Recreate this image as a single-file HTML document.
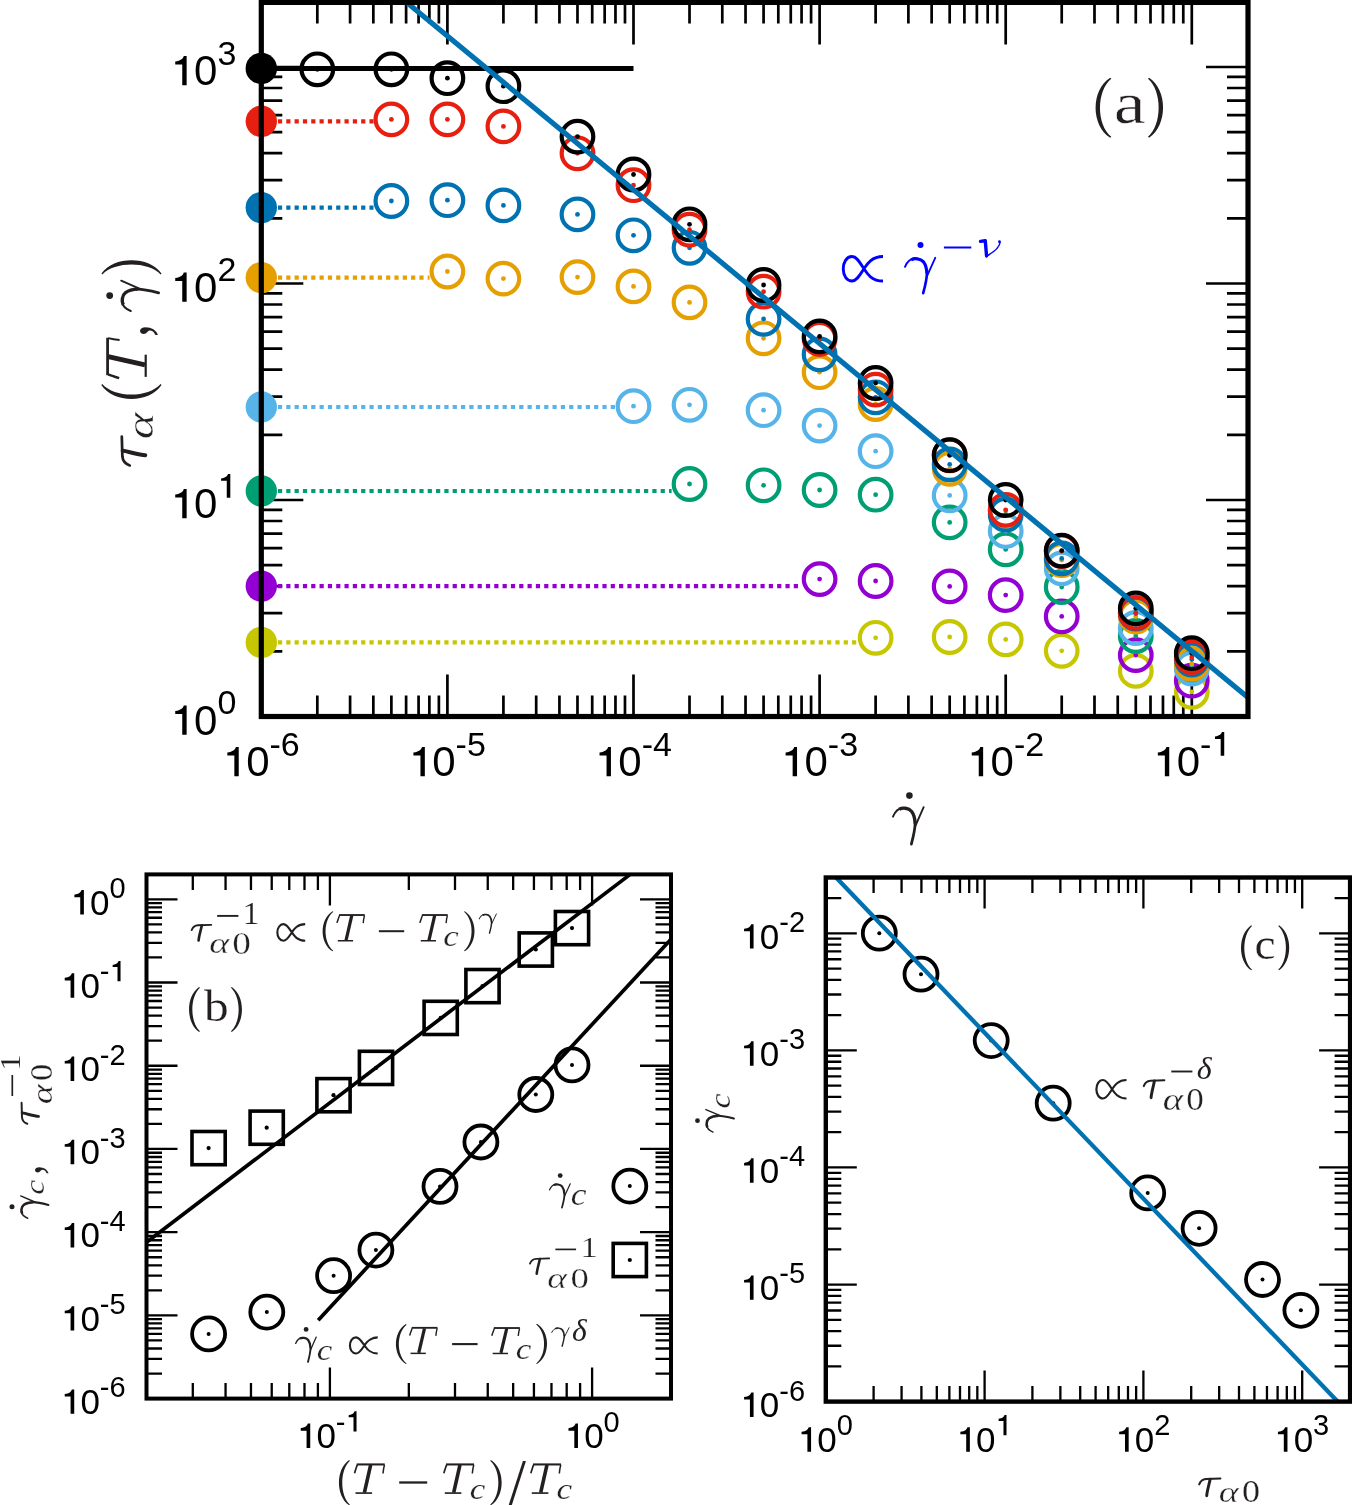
<!DOCTYPE html><html><head><meta charset="utf-8"><style>html,body{margin:0;padding:0;background:#fff;}svg{display:block;will-change:transform;}</style></head><body>
<svg width="1352" height="1505" viewBox="0 0 1352 1505">
<rect width="1352" height="1505" fill="#fff"/>
<g id="pa">
<path d="M261.30,2.40v42M261.30,716.50v-42M317.32,2.40v21M317.32,716.50v-21M350.09,2.40v21M350.09,716.50v-21M373.34,2.40v21M373.34,716.50v-21M391.38,2.40v21M391.38,716.50v-21M406.11,2.40v21M406.11,716.50v-21M418.57,2.40v21M418.57,716.50v-21M429.37,2.40v21M429.37,716.50v-21M438.88,2.40v21M438.88,716.50v-21M447.40,2.40v42M447.40,716.50v-42M503.42,2.40v21M503.42,716.50v-21M536.19,2.40v21M536.19,716.50v-21M559.44,2.40v21M559.44,716.50v-21M577.48,2.40v21M577.48,716.50v-21M592.21,2.40v21M592.21,716.50v-21M604.67,2.40v21M604.67,716.50v-21M615.47,2.40v21M615.47,716.50v-21M624.98,2.40v21M624.98,716.50v-21M633.50,2.40v42M633.50,716.50v-42M689.52,2.40v21M689.52,716.50v-21M722.29,2.40v21M722.29,716.50v-21M745.54,2.40v21M745.54,716.50v-21M763.58,2.40v21M763.58,716.50v-21M778.31,2.40v21M778.31,716.50v-21M790.77,2.40v21M790.77,716.50v-21M801.57,2.40v21M801.57,716.50v-21M811.08,2.40v21M811.08,716.50v-21M819.60,2.40v42M819.60,716.50v-42M875.62,2.40v21M875.62,716.50v-21M908.39,2.40v21M908.39,716.50v-21M931.64,2.40v21M931.64,716.50v-21M949.68,2.40v21M949.68,716.50v-21M964.41,2.40v21M964.41,716.50v-21M976.87,2.40v21M976.87,716.50v-21M987.67,2.40v21M987.67,716.50v-21M997.18,2.40v21M997.18,716.50v-21M1005.70,2.40v42M1005.70,716.50v-42M1061.72,2.40v21M1061.72,716.50v-21M1094.49,2.40v21M1094.49,716.50v-21M1117.74,2.40v21M1117.74,716.50v-21M1135.78,2.40v21M1135.78,716.50v-21M1150.51,2.40v21M1150.51,716.50v-21M1162.97,2.40v21M1162.97,716.50v-21M1173.77,2.40v21M1173.77,716.50v-21M1183.28,2.40v21M1183.28,716.50v-21M1191.80,2.40v42M1191.80,716.50v-42M1247.82,2.40v21M1247.82,716.50v-21" stroke="#000" stroke-width="2.7" fill="none"/>
<path d="M261.30,716.50h42M1248.00,716.50h-42M261.30,651.33h21M1248.00,651.33h-21M261.30,613.20h21M1248.00,613.20h-21M261.30,586.15h21M1248.00,586.15h-21M261.30,565.17h21M1248.00,565.17h-21M261.30,548.03h21M1248.00,548.03h-21M261.30,533.54h21M1248.00,533.54h-21M261.30,520.98h21M1248.00,520.98h-21M261.30,509.91h21M1248.00,509.91h-21M261.30,500.00h42M1248.00,500.00h-42M261.30,434.83h21M1248.00,434.83h-21M261.30,396.70h21M1248.00,396.70h-21M261.30,369.65h21M1248.00,369.65h-21M261.30,348.67h21M1248.00,348.67h-21M261.30,331.53h21M1248.00,331.53h-21M261.30,317.04h21M1248.00,317.04h-21M261.30,304.48h21M1248.00,304.48h-21M261.30,293.41h21M1248.00,293.41h-21M261.30,283.50h42M1248.00,283.50h-42M261.30,218.33h21M1248.00,218.33h-21M261.30,180.20h21M1248.00,180.20h-21M261.30,153.15h21M1248.00,153.15h-21M261.30,132.17h21M1248.00,132.17h-21M261.30,115.03h21M1248.00,115.03h-21M261.30,100.54h21M1248.00,100.54h-21M261.30,87.98h21M1248.00,87.98h-21M261.30,76.91h21M1248.00,76.91h-21M261.30,67.00h42M1248.00,67.00h-42M261.30,1.83h21M1248.00,1.83h-21" stroke="#000" stroke-width="2.7" fill="none"/>
<line x1="261.30" y1="642.4" x2="857.72" y2="642.4" stroke="#c6c700" stroke-width="4.2" stroke-dasharray="4.2 4.12"/>
<line x1="261.30" y1="586.1" x2="801.70" y2="586.1" stroke="#9400d3" stroke-width="4.2" stroke-dasharray="4.2 4.12"/>
<line x1="261.30" y1="491.0" x2="671.62" y2="491.0" stroke="#009e73" stroke-width="4.2" stroke-dasharray="4.2 4.12"/>
<line x1="261.30" y1="407.0" x2="615.60" y2="407.0" stroke="#56b4e9" stroke-width="4.2" stroke-dasharray="4.2 4.12"/>
<line x1="261.30" y1="277.6" x2="429.50" y2="277.6" stroke="#e69f00" stroke-width="4.2" stroke-dasharray="4.2 4.12"/>
<line x1="261.30" y1="207.6" x2="373.48" y2="207.6" stroke="#0072b2" stroke-width="4.2" stroke-dasharray="4.2 4.12"/>
<line x1="261.30" y1="121.3" x2="373.48" y2="121.3" stroke="#e61f10" stroke-width="4.2" stroke-dasharray="4.2 4.12"/>
<line x1="261.3" y1="68.5" x2="633.50" y2="68.5" stroke="#000" stroke-width="4.8"/>
<circle cx="875.62" cy="637.80" r="15.8" fill="none" stroke="#c6c700" stroke-width="4.2"/><circle cx="875.62" cy="637.80" r="2.4" fill="#c6c700"/>
<circle cx="949.68" cy="637.00" r="15.8" fill="none" stroke="#c6c700" stroke-width="4.2"/><circle cx="949.68" cy="637.00" r="2.4" fill="#c6c700"/>
<circle cx="1005.70" cy="639.40" r="15.8" fill="none" stroke="#c6c700" stroke-width="4.2"/><circle cx="1005.70" cy="639.40" r="2.4" fill="#c6c700"/>
<circle cx="1061.72" cy="650.80" r="15.8" fill="none" stroke="#c6c700" stroke-width="4.2"/><circle cx="1061.72" cy="650.80" r="2.4" fill="#c6c700"/>
<circle cx="1135.78" cy="670.90" r="15.8" fill="none" stroke="#c6c700" stroke-width="4.2"/><circle cx="1135.78" cy="670.90" r="2.4" fill="#c6c700"/>
<circle cx="1191.80" cy="691.80" r="15.8" fill="none" stroke="#c6c700" stroke-width="4.2"/><circle cx="1191.80" cy="691.80" r="2.4" fill="#c6c700"/>
<circle cx="819.60" cy="579.10" r="15.8" fill="none" stroke="#9400d3" stroke-width="4.2"/><circle cx="819.60" cy="579.10" r="2.4" fill="#9400d3"/>
<circle cx="875.62" cy="581.00" r="15.8" fill="none" stroke="#9400d3" stroke-width="4.2"/><circle cx="875.62" cy="581.00" r="2.4" fill="#9400d3"/>
<circle cx="949.68" cy="586.40" r="15.8" fill="none" stroke="#9400d3" stroke-width="4.2"/><circle cx="949.68" cy="586.40" r="2.4" fill="#9400d3"/>
<circle cx="1005.70" cy="595.10" r="15.8" fill="none" stroke="#9400d3" stroke-width="4.2"/><circle cx="1005.70" cy="595.10" r="2.4" fill="#9400d3"/>
<circle cx="1061.72" cy="616.40" r="15.8" fill="none" stroke="#9400d3" stroke-width="4.2"/><circle cx="1061.72" cy="616.40" r="2.4" fill="#9400d3"/>
<circle cx="1135.78" cy="655.10" r="15.8" fill="none" stroke="#9400d3" stroke-width="4.2"/><circle cx="1135.78" cy="655.10" r="2.4" fill="#9400d3"/>
<circle cx="1191.80" cy="680.70" r="15.8" fill="none" stroke="#9400d3" stroke-width="4.2"/><circle cx="1191.80" cy="680.70" r="2.4" fill="#9400d3"/>
<circle cx="689.52" cy="484.00" r="15.8" fill="none" stroke="#009e73" stroke-width="4.2"/><circle cx="689.52" cy="484.00" r="2.4" fill="#009e73"/>
<circle cx="763.58" cy="485.30" r="15.8" fill="none" stroke="#009e73" stroke-width="4.2"/><circle cx="763.58" cy="485.30" r="2.4" fill="#009e73"/>
<circle cx="819.60" cy="490.00" r="15.8" fill="none" stroke="#009e73" stroke-width="4.2"/><circle cx="819.60" cy="490.00" r="2.4" fill="#009e73"/>
<circle cx="875.62" cy="494.70" r="15.8" fill="none" stroke="#009e73" stroke-width="4.2"/><circle cx="875.62" cy="494.70" r="2.4" fill="#009e73"/>
<circle cx="949.68" cy="522.40" r="15.8" fill="none" stroke="#009e73" stroke-width="4.2"/><circle cx="949.68" cy="522.40" r="2.4" fill="#009e73"/>
<circle cx="1005.70" cy="549.40" r="15.8" fill="none" stroke="#009e73" stroke-width="4.2"/><circle cx="1005.70" cy="549.40" r="2.4" fill="#009e73"/>
<circle cx="1061.72" cy="587.00" r="15.8" fill="none" stroke="#009e73" stroke-width="4.2"/><circle cx="1061.72" cy="587.00" r="2.4" fill="#009e73"/>
<circle cx="1135.78" cy="636.00" r="15.8" fill="none" stroke="#009e73" stroke-width="4.2"/><circle cx="1135.78" cy="636.00" r="2.4" fill="#009e73"/>
<circle cx="1191.80" cy="666.00" r="15.8" fill="none" stroke="#009e73" stroke-width="4.2"/><circle cx="1191.80" cy="666.00" r="2.4" fill="#009e73"/>
<circle cx="633.50" cy="406.20" r="15.8" fill="none" stroke="#56b4e9" stroke-width="4.2"/><circle cx="633.50" cy="406.20" r="2.4" fill="#56b4e9"/>
<circle cx="689.52" cy="404.80" r="15.8" fill="none" stroke="#56b4e9" stroke-width="4.2"/><circle cx="689.52" cy="404.80" r="2.4" fill="#56b4e9"/>
<circle cx="763.58" cy="410.20" r="15.8" fill="none" stroke="#56b4e9" stroke-width="4.2"/><circle cx="763.58" cy="410.20" r="2.4" fill="#56b4e9"/>
<circle cx="819.60" cy="425.60" r="15.8" fill="none" stroke="#56b4e9" stroke-width="4.2"/><circle cx="819.60" cy="425.60" r="2.4" fill="#56b4e9"/>
<circle cx="875.62" cy="451.20" r="15.8" fill="none" stroke="#56b4e9" stroke-width="4.2"/><circle cx="875.62" cy="451.20" r="2.4" fill="#56b4e9"/>
<circle cx="949.68" cy="495.40" r="15.8" fill="none" stroke="#56b4e9" stroke-width="4.2"/><circle cx="949.68" cy="495.40" r="2.4" fill="#56b4e9"/>
<circle cx="1005.70" cy="531.00" r="15.8" fill="none" stroke="#56b4e9" stroke-width="4.2"/><circle cx="1005.70" cy="531.00" r="2.4" fill="#56b4e9"/>
<circle cx="1061.72" cy="568.40" r="15.8" fill="none" stroke="#56b4e9" stroke-width="4.2"/><circle cx="1061.72" cy="568.40" r="2.4" fill="#56b4e9"/>
<circle cx="1135.78" cy="628.00" r="15.8" fill="none" stroke="#56b4e9" stroke-width="4.2"/><circle cx="1135.78" cy="628.00" r="2.4" fill="#56b4e9"/>
<circle cx="1191.80" cy="668.60" r="15.8" fill="none" stroke="#56b4e9" stroke-width="4.2"/><circle cx="1191.80" cy="668.60" r="2.4" fill="#56b4e9"/>
<circle cx="447.40" cy="271.50" r="15.8" fill="none" stroke="#e69f00" stroke-width="4.2"/><circle cx="447.40" cy="271.50" r="2.4" fill="#e69f00"/>
<circle cx="503.42" cy="278.60" r="15.8" fill="none" stroke="#e69f00" stroke-width="4.2"/><circle cx="503.42" cy="278.60" r="2.4" fill="#e69f00"/>
<circle cx="577.48" cy="277.10" r="15.8" fill="none" stroke="#e69f00" stroke-width="4.2"/><circle cx="577.48" cy="277.10" r="2.4" fill="#e69f00"/>
<circle cx="633.50" cy="286.40" r="15.8" fill="none" stroke="#e69f00" stroke-width="4.2"/><circle cx="633.50" cy="286.40" r="2.4" fill="#e69f00"/>
<circle cx="689.52" cy="302.40" r="15.8" fill="none" stroke="#e69f00" stroke-width="4.2"/><circle cx="689.52" cy="302.40" r="2.4" fill="#e69f00"/>
<circle cx="763.58" cy="338.30" r="15.8" fill="none" stroke="#e69f00" stroke-width="4.2"/><circle cx="763.58" cy="338.30" r="2.4" fill="#e69f00"/>
<circle cx="819.60" cy="372.20" r="15.8" fill="none" stroke="#e69f00" stroke-width="4.2"/><circle cx="819.60" cy="372.20" r="2.4" fill="#e69f00"/>
<circle cx="875.62" cy="404.00" r="15.8" fill="none" stroke="#e69f00" stroke-width="4.2"/><circle cx="875.62" cy="404.00" r="2.4" fill="#e69f00"/>
<circle cx="949.68" cy="468.80" r="15.8" fill="none" stroke="#e69f00" stroke-width="4.2"/><circle cx="949.68" cy="468.80" r="2.4" fill="#e69f00"/>
<circle cx="1005.70" cy="511.00" r="15.8" fill="none" stroke="#e69f00" stroke-width="4.2"/><circle cx="1005.70" cy="511.00" r="2.4" fill="#e69f00"/>
<circle cx="1061.72" cy="560.00" r="15.8" fill="none" stroke="#e69f00" stroke-width="4.2"/><circle cx="1061.72" cy="560.00" r="2.4" fill="#e69f00"/>
<circle cx="1135.78" cy="616.50" r="15.8" fill="none" stroke="#e69f00" stroke-width="4.2"/><circle cx="1135.78" cy="616.50" r="2.4" fill="#e69f00"/>
<circle cx="1191.80" cy="663.90" r="15.8" fill="none" stroke="#e69f00" stroke-width="4.2"/><circle cx="1191.80" cy="663.90" r="2.4" fill="#e69f00"/>
<circle cx="391.38" cy="201.00" r="15.8" fill="none" stroke="#0072b2" stroke-width="4.2"/><circle cx="391.38" cy="201.00" r="2.4" fill="#0072b2"/>
<circle cx="447.40" cy="200.20" r="15.8" fill="none" stroke="#0072b2" stroke-width="4.2"/><circle cx="447.40" cy="200.20" r="2.4" fill="#0072b2"/>
<circle cx="503.42" cy="205.40" r="15.8" fill="none" stroke="#0072b2" stroke-width="4.2"/><circle cx="503.42" cy="205.40" r="2.4" fill="#0072b2"/>
<circle cx="577.48" cy="214.40" r="15.8" fill="none" stroke="#0072b2" stroke-width="4.2"/><circle cx="577.48" cy="214.40" r="2.4" fill="#0072b2"/>
<circle cx="633.50" cy="235.30" r="15.8" fill="none" stroke="#0072b2" stroke-width="4.2"/><circle cx="633.50" cy="235.30" r="2.4" fill="#0072b2"/>
<circle cx="689.52" cy="247.80" r="15.8" fill="none" stroke="#0072b2" stroke-width="4.2"/><circle cx="689.52" cy="247.80" r="2.4" fill="#0072b2"/>
<circle cx="763.58" cy="318.90" r="15.8" fill="none" stroke="#0072b2" stroke-width="4.2"/><circle cx="763.58" cy="318.90" r="2.4" fill="#0072b2"/>
<circle cx="819.60" cy="354.40" r="15.8" fill="none" stroke="#0072b2" stroke-width="4.2"/><circle cx="819.60" cy="354.40" r="2.4" fill="#0072b2"/>
<circle cx="875.62" cy="397.30" r="15.8" fill="none" stroke="#0072b2" stroke-width="4.2"/><circle cx="875.62" cy="397.30" r="2.4" fill="#0072b2"/>
<circle cx="949.68" cy="464.40" r="15.8" fill="none" stroke="#0072b2" stroke-width="4.2"/><circle cx="949.68" cy="464.40" r="2.4" fill="#0072b2"/>
<circle cx="1005.70" cy="514.70" r="15.8" fill="none" stroke="#0072b2" stroke-width="4.2"/><circle cx="1005.70" cy="514.70" r="2.4" fill="#0072b2"/>
<circle cx="1061.72" cy="558.40" r="15.8" fill="none" stroke="#0072b2" stroke-width="4.2"/><circle cx="1061.72" cy="558.40" r="2.4" fill="#0072b2"/>
<circle cx="1135.78" cy="613.50" r="15.8" fill="none" stroke="#0072b2" stroke-width="4.2"/><circle cx="1135.78" cy="613.50" r="2.4" fill="#0072b2"/>
<circle cx="1191.80" cy="659.50" r="15.8" fill="none" stroke="#0072b2" stroke-width="4.2"/><circle cx="1191.80" cy="659.50" r="2.4" fill="#0072b2"/>
<circle cx="391.38" cy="119.40" r="15.8" fill="none" stroke="#e61f10" stroke-width="4.2"/><circle cx="391.38" cy="119.40" r="2.4" fill="#e61f10"/>
<circle cx="447.40" cy="119.40" r="15.8" fill="none" stroke="#e61f10" stroke-width="4.2"/><circle cx="447.40" cy="119.40" r="2.4" fill="#e61f10"/>
<circle cx="503.42" cy="126.40" r="15.8" fill="none" stroke="#e61f10" stroke-width="4.2"/><circle cx="503.42" cy="126.40" r="2.4" fill="#e61f10"/>
<circle cx="577.48" cy="153.30" r="15.8" fill="none" stroke="#e61f10" stroke-width="4.2"/><circle cx="577.48" cy="153.30" r="2.4" fill="#e61f10"/>
<circle cx="633.50" cy="185.20" r="15.8" fill="none" stroke="#e61f10" stroke-width="4.2"/><circle cx="633.50" cy="185.20" r="2.4" fill="#e61f10"/>
<circle cx="689.52" cy="229.70" r="15.8" fill="none" stroke="#e61f10" stroke-width="4.2"/><circle cx="689.52" cy="229.70" r="2.4" fill="#e61f10"/>
<circle cx="763.58" cy="291.70" r="15.8" fill="none" stroke="#e61f10" stroke-width="4.2"/><circle cx="763.58" cy="291.70" r="2.4" fill="#e61f10"/>
<circle cx="819.60" cy="338.80" r="15.8" fill="none" stroke="#e61f10" stroke-width="4.2"/><circle cx="819.60" cy="338.80" r="2.4" fill="#e61f10"/>
<circle cx="875.62" cy="389.60" r="15.8" fill="none" stroke="#e61f10" stroke-width="4.2"/><circle cx="875.62" cy="389.60" r="2.4" fill="#e61f10"/>
<circle cx="949.68" cy="455.30" r="15.8" fill="none" stroke="#e61f10" stroke-width="4.2"/><circle cx="949.68" cy="455.30" r="2.4" fill="#e61f10"/>
<circle cx="1005.70" cy="509.80" r="15.8" fill="none" stroke="#e61f10" stroke-width="4.2"/><circle cx="1005.70" cy="509.80" r="2.4" fill="#e61f10"/>
<circle cx="1061.72" cy="551.20" r="15.8" fill="none" stroke="#e61f10" stroke-width="4.2"/><circle cx="1061.72" cy="551.20" r="2.4" fill="#e61f10"/>
<circle cx="1135.78" cy="612.80" r="15.8" fill="none" stroke="#e61f10" stroke-width="4.2"/><circle cx="1135.78" cy="612.80" r="2.4" fill="#e61f10"/>
<circle cx="1191.80" cy="657.00" r="15.8" fill="none" stroke="#e61f10" stroke-width="4.2"/><circle cx="1191.80" cy="657.00" r="2.4" fill="#e61f10"/>
<circle cx="317.32" cy="69.30" r="15.8" fill="none" stroke="#000000" stroke-width="4.2"/><circle cx="317.32" cy="69.30" r="2.4" fill="#000000"/>
<circle cx="391.38" cy="69.30" r="15.8" fill="none" stroke="#000000" stroke-width="4.2"/><circle cx="391.38" cy="69.30" r="2.4" fill="#000000"/>
<circle cx="447.40" cy="78.20" r="15.8" fill="none" stroke="#000000" stroke-width="4.2"/><circle cx="447.40" cy="78.20" r="2.4" fill="#000000"/>
<circle cx="503.42" cy="86.20" r="15.8" fill="none" stroke="#000000" stroke-width="4.2"/><circle cx="503.42" cy="86.20" r="2.4" fill="#000000"/>
<circle cx="577.48" cy="136.60" r="15.8" fill="none" stroke="#000000" stroke-width="4.2"/><circle cx="577.48" cy="136.60" r="2.4" fill="#000000"/>
<circle cx="633.50" cy="174.50" r="15.8" fill="none" stroke="#000000" stroke-width="4.2"/><circle cx="633.50" cy="174.50" r="2.4" fill="#000000"/>
<circle cx="689.52" cy="224.30" r="15.8" fill="none" stroke="#000000" stroke-width="4.2"/><circle cx="689.52" cy="224.30" r="2.4" fill="#000000"/>
<circle cx="763.58" cy="285.00" r="15.8" fill="none" stroke="#000000" stroke-width="4.2"/><circle cx="763.58" cy="285.00" r="2.4" fill="#000000"/>
<circle cx="819.60" cy="336.40" r="15.8" fill="none" stroke="#000000" stroke-width="4.2"/><circle cx="819.60" cy="336.40" r="2.4" fill="#000000"/>
<circle cx="875.62" cy="383.00" r="15.8" fill="none" stroke="#000000" stroke-width="4.2"/><circle cx="875.62" cy="383.00" r="2.4" fill="#000000"/>
<circle cx="949.68" cy="455.20" r="15.8" fill="none" stroke="#000000" stroke-width="4.2"/><circle cx="949.68" cy="455.20" r="2.4" fill="#000000"/>
<circle cx="1005.70" cy="500.00" r="15.8" fill="none" stroke="#000000" stroke-width="4.2"/><circle cx="1005.70" cy="500.00" r="2.4" fill="#000000"/>
<circle cx="1061.72" cy="550.60" r="15.8" fill="none" stroke="#000000" stroke-width="4.2"/><circle cx="1061.72" cy="550.60" r="2.4" fill="#000000"/>
<circle cx="1135.78" cy="608.40" r="15.8" fill="none" stroke="#000000" stroke-width="4.2"/><circle cx="1135.78" cy="608.40" r="2.4" fill="#000000"/>
<circle cx="1191.80" cy="653.20" r="15.8" fill="none" stroke="#000000" stroke-width="4.2"/><circle cx="1191.80" cy="653.20" r="2.4" fill="#000000"/>
<line x1="406.8" y1="2.4" x2="1248.0" y2="697.5" stroke="#0072b2" stroke-width="5.2"/>
<circle cx="261.3" cy="642.4" r="15.7" fill="#c6c700"/>
<circle cx="261.3" cy="586.1" r="15.7" fill="#9400d3"/>
<circle cx="261.3" cy="491.0" r="15.7" fill="#009e73"/>
<circle cx="261.3" cy="407.0" r="15.7" fill="#56b4e9"/>
<circle cx="261.3" cy="277.6" r="15.7" fill="#e69f00"/>
<circle cx="261.3" cy="207.6" r="15.7" fill="#0072b2"/>
<circle cx="261.3" cy="121.3" r="15.7" fill="#e61f10"/>
<circle cx="261.3" cy="68.4" r="15.7" fill="#000000"/>
<rect x="261.3" y="2.4" width="986.70" height="714.10" fill="none" stroke="#000" stroke-width="5.2"/>
<path d="M0.3795,0 L0.3795,-0.698 L0.312,-0.698 C0.292,-0.632 0.242,-0.587 0.108,-0.567 L0.108,-0.495 L0.275,-0.495 L0.275,0 Z" transform="translate(222.80,776.30) scale(42)" fill="#000"/>
<text x="246.15" y="776.30" font-family="Liberation Sans" font-size="42" fill="#000">0</text>
<text x="269.50" y="755.80" font-family="Liberation Sans" font-size="34" fill="#000">-</text>
<text x="280.83" y="755.80" font-family="Liberation Sans" font-size="34" fill="#000">6</text>
<path d="M0.3795,0 L0.3795,-0.698 L0.312,-0.698 C0.292,-0.632 0.242,-0.587 0.108,-0.567 L0.108,-0.495 L0.275,-0.495 L0.275,0 Z" transform="translate(408.90,776.30) scale(42)" fill="#000"/>
<text x="432.25" y="776.30" font-family="Liberation Sans" font-size="42" fill="#000">0</text>
<text x="455.60" y="755.80" font-family="Liberation Sans" font-size="34" fill="#000">-</text>
<text x="466.93" y="755.80" font-family="Liberation Sans" font-size="34" fill="#000">5</text>
<path d="M0.3795,0 L0.3795,-0.698 L0.312,-0.698 C0.292,-0.632 0.242,-0.587 0.108,-0.567 L0.108,-0.495 L0.275,-0.495 L0.275,0 Z" transform="translate(595.00,776.30) scale(42)" fill="#000"/>
<text x="618.35" y="776.30" font-family="Liberation Sans" font-size="42" fill="#000">0</text>
<text x="641.70" y="755.80" font-family="Liberation Sans" font-size="34" fill="#000">-</text>
<text x="653.03" y="755.80" font-family="Liberation Sans" font-size="34" fill="#000">4</text>
<path d="M0.3795,0 L0.3795,-0.698 L0.312,-0.698 C0.292,-0.632 0.242,-0.587 0.108,-0.567 L0.108,-0.495 L0.275,-0.495 L0.275,0 Z" transform="translate(781.10,776.30) scale(42)" fill="#000"/>
<text x="804.45" y="776.30" font-family="Liberation Sans" font-size="42" fill="#000">0</text>
<text x="827.80" y="755.80" font-family="Liberation Sans" font-size="34" fill="#000">-</text>
<text x="839.13" y="755.80" font-family="Liberation Sans" font-size="34" fill="#000">3</text>
<path d="M0.3795,0 L0.3795,-0.698 L0.312,-0.698 C0.292,-0.632 0.242,-0.587 0.108,-0.567 L0.108,-0.495 L0.275,-0.495 L0.275,0 Z" transform="translate(967.20,776.30) scale(42)" fill="#000"/>
<text x="990.55" y="776.30" font-family="Liberation Sans" font-size="42" fill="#000">0</text>
<text x="1013.90" y="755.80" font-family="Liberation Sans" font-size="34" fill="#000">-</text>
<text x="1025.23" y="755.80" font-family="Liberation Sans" font-size="34" fill="#000">2</text>
<path d="M0.3795,0 L0.3795,-0.698 L0.312,-0.698 C0.292,-0.632 0.242,-0.587 0.108,-0.567 L0.108,-0.495 L0.275,-0.495 L0.275,0 Z" transform="translate(1153.30,776.30) scale(42)" fill="#000"/>
<text x="1176.65" y="776.30" font-family="Liberation Sans" font-size="42" fill="#000">0</text>
<text x="1200.00" y="755.80" font-family="Liberation Sans" font-size="34" fill="#000">-</text>
<path d="M0.3795,0 L0.3795,-0.698 L0.312,-0.698 C0.292,-0.632 0.242,-0.587 0.108,-0.567 L0.108,-0.495 L0.275,-0.495 L0.275,0 Z" transform="translate(1211.33,755.80) scale(34)" fill="#000"/>
<path d="M0.3795,0 L0.3795,-0.698 L0.312,-0.698 C0.292,-0.632 0.242,-0.587 0.108,-0.567 L0.108,-0.495 L0.275,-0.495 L0.275,0 Z" transform="translate(170.70,734.70) scale(42)" fill="#000"/>
<text x="194.05" y="734.70" font-family="Liberation Sans" font-size="42" fill="#000">0</text>
<text x="217.40" y="714.20" font-family="Liberation Sans" font-size="34" fill="#000">0</text>
<path d="M0.3795,0 L0.3795,-0.698 L0.312,-0.698 C0.292,-0.632 0.242,-0.587 0.108,-0.567 L0.108,-0.495 L0.275,-0.495 L0.275,0 Z" transform="translate(170.70,518.20) scale(42)" fill="#000"/>
<text x="194.05" y="518.20" font-family="Liberation Sans" font-size="42" fill="#000">0</text>
<path d="M0.3795,0 L0.3795,-0.698 L0.312,-0.698 C0.292,-0.632 0.242,-0.587 0.108,-0.567 L0.108,-0.495 L0.275,-0.495 L0.275,0 Z" transform="translate(217.40,497.70) scale(34)" fill="#000"/>
<path d="M0.3795,0 L0.3795,-0.698 L0.312,-0.698 C0.292,-0.632 0.242,-0.587 0.108,-0.567 L0.108,-0.495 L0.275,-0.495 L0.275,0 Z" transform="translate(170.70,301.70) scale(42)" fill="#000"/>
<text x="194.05" y="301.70" font-family="Liberation Sans" font-size="42" fill="#000">0</text>
<text x="217.40" y="281.20" font-family="Liberation Sans" font-size="34" fill="#000">2</text>
<path d="M0.3795,0 L0.3795,-0.698 L0.312,-0.698 C0.292,-0.632 0.242,-0.587 0.108,-0.567 L0.108,-0.495 L0.275,-0.495 L0.275,0 Z" transform="translate(170.70,85.20) scale(42)" fill="#000"/>
<text x="194.05" y="85.20" font-family="Liberation Sans" font-size="42" fill="#000">0</text>
<text x="217.40" y="64.70" font-family="Liberation Sans" font-size="34" fill="#000">3</text>
<path d="M1110.21,77.80 C1090.76,89.78 1090.76,125.72 1110.21,137.70 L1111.30,136.80 C1096.25,124.52 1096.25,90.98 1111.30,78.70 Z" fill="#231f20"/>
<text transform="translate(1113.86,123.13) scale(1.2343,1)" font-family="Liberation Serif" font-style="normal" font-size="58.45" fill="#231f20" stroke="#fff" stroke-width="0.49">a</text>
<path d="M1149.05,77.80 C1167.75,89.78 1167.75,125.72 1149.05,137.70 L1148.00,136.80 C1162.25,124.52 1162.25,90.98 1148.00,78.70 Z" fill="#231f20"/>
<path d="M883.00,256.55 C871.87,256.55 867.10,263.90 863.92,268.80 C859.95,274.93 856.76,281.05 852.00,281.05 C846.43,281.05 843.25,274.93 843.25,268.80 C843.25,262.68 846.43,256.55 852.00,256.55 C856.76,256.55 859.95,262.68 863.92,268.80 C867.10,273.70 871.87,281.05 883.00,281.05" fill="none" stroke="#0000ff" stroke-width="2.9"/>
<path d="M904.98,266.78 C907.25,261.50 910.50,258.86 914.73,258.30" fill="none" stroke="#0000ff" stroke-width="1.88" stroke-linecap="round"/><path d="M911.15,259.80 C914.40,258.11 920.25,258.11 923.50,261.88 C925.77,264.89 926.75,268.66 926.91,273.56" fill="none" stroke="#0000ff" stroke-width="3.20" stroke-linecap="butt"/><path d="M926.91,273.19 C926.91,279.22 925.12,286.01 923.17,293.17" fill="none" stroke="#0000ff" stroke-width="2.64" stroke-linecap="round"/><path d="M935.36,257.73 L926.75,276.58" fill="none" stroke="#0000ff" stroke-width="1.81" stroke-linecap="round"/>
<circle cx="920.50" cy="245.10" r="3.00" fill="#0000ff"/>
<line x1="943.90" y1="247.50" x2="971.30" y2="247.50" stroke="#0000ff" stroke-width="2.0"/>
<path d="M980.53,241.38 L985.26,240.67 L986.55,255.98" fill="none" stroke="#0000ff" stroke-width="3.38" stroke-linejoin="round" stroke-linecap="round"/><path d="M986.55,256.15 C993.43,252.42 999.88,247.61 1000.10,242.09" fill="none" stroke="#0000ff" stroke-width="1.42" stroke-linecap="round"/><circle cx="999.45" cy="241.74" r="1.42" fill="#0000ff"/>
<path d="M892.98,816.61 C895.28,811.11 898.56,808.36 902.82,807.77" fill="none" stroke="#231f20" stroke-width="1.96" stroke-linecap="round"/><path d="M899.22,809.34 C902.50,807.57 908.40,807.57 911.68,811.50 C913.98,814.65 914.96,818.58 915.12,823.68" fill="none" stroke="#231f20" stroke-width="3.34" stroke-linecap="butt"/><path d="M915.12,823.29 C915.12,829.58 913.32,836.65 911.35,844.12" fill="none" stroke="#231f20" stroke-width="2.75" stroke-linecap="round"/><path d="M923.65,807.18 L914.96,826.83" fill="none" stroke="#231f20" stroke-width="1.89" stroke-linecap="round"/>
<circle cx="909.40" cy="795.60" r="3.30" fill="#231f20"/>
<path d="M129.73,465.46 C124.54,463.61 122.63,460.52 122.36,456.19 L121.81,436.73" fill="none" stroke="#231f20" stroke-width="2.73" stroke-linecap="round"/><path d="M122.63,450.63 C130.82,452.18 139.01,454.96 145.29,455.27" fill="none" stroke="#231f20" stroke-width="3.96" stroke-linecap="round"/>
<text transform="rotate(-90) translate(-439.31,153.40) scale(1.3114,1)" font-family="Liberation Serif" font-style="italic" font-size="38.59" fill="#231f20" stroke="#fff" stroke-width="0.46">α</text>
<path d="M101.30,385.04 C113.34,403.62 149.46,403.62 161.50,385.04 L160.60,384.00 C148.26,398.09 114.54,398.09 102.20,384.00 Z" fill="#231f20"/>
<path d="M107.58,375.21 L107.58,337.71" fill="none" stroke="#231f20" stroke-width="2.76"/><path d="M108.23,374.37 C111.07,375.63 115.13,376.89 119.19,378.14" fill="none" stroke="#231f20" stroke-width="2.23"/><path d="M108.23,338.13 C111.48,338.97 115.13,339.60 119.60,340.01" fill="none" stroke="#231f20" stroke-width="2.03"/><path d="M108.23,356.56 L144.97,364.94" fill="none" stroke="#231f20" stroke-width="4.79"/><path d="M145.70,376.89 L145.70,354.68" fill="none" stroke="#231f20" stroke-width="2.19"/>
<text transform="rotate(-90) translate(-336.89,147.16) scale(0.7432,1)" font-family="Liberation Serif" font-style="normal" font-size="70.47" fill="#231f20">,</text>
<path d="M130.75,311.03 C125.17,308.76 122.39,305.52 121.79,301.31" fill="none" stroke="#231f20" stroke-width="1.99" stroke-linecap="round"/><path d="M123.38,304.87 C121.59,301.63 121.59,295.80 125.57,292.56 C128.76,290.29 132.74,289.32 137.91,289.16" fill="none" stroke="#231f20" stroke-width="3.38" stroke-linecap="butt"/><path d="M137.51,289.16 C143.88,289.16 151.04,290.94 158.61,292.88" fill="none" stroke="#231f20" stroke-width="2.79" stroke-linecap="round"/><path d="M121.19,280.73 L141.09,289.32" fill="none" stroke="#231f20" stroke-width="1.91" stroke-linecap="round"/>
<circle cx="109.70" cy="295.60" r="3.40" fill="#231f20"/>
<path d="M101.50,273.41 C113.50,255.70 149.50,255.70 161.50,273.41 L160.60,274.40 C148.30,261.23 114.70,261.23 102.40,274.40 Z" fill="#231f20"/>
</g>
<g id="pb">
<path d="M146.63,874.40v15.5M146.63,1398.60v-15.5M192.80,874.40v15.5M192.80,1398.60v-15.5M225.56,874.40v15.5M225.56,1398.60v-15.5M250.97,874.40v15.5M250.97,1398.60v-15.5M271.73,874.40v15.5M271.73,1398.60v-15.5M289.28,874.40v15.5M289.28,1398.60v-15.5M304.49,874.40v15.5M304.49,1398.60v-15.5M317.90,874.40v15.5M317.90,1398.60v-15.5M329.90,874.40v31M329.90,1398.60v-31M408.83,874.40v15.5M408.83,1398.60v-15.5M455.00,874.40v15.5M455.00,1398.60v-15.5M487.76,874.40v15.5M487.76,1398.60v-15.5M513.17,874.40v15.5M513.17,1398.60v-15.5M533.93,874.40v15.5M533.93,1398.60v-15.5M551.48,874.40v15.5M551.48,1398.60v-15.5M566.69,874.40v15.5M566.69,1398.60v-15.5M580.10,874.40v15.5M580.10,1398.60v-15.5M592.10,874.40v31M592.10,1398.60v-31M671.03,874.40v15.5M671.03,1398.60v-15.5" stroke="#000" stroke-width="2.3" fill="none"/>
<path d="M146.50,1398.62h31M671.00,1398.62h-31M146.50,1373.57h15.5M671.00,1373.57h-15.5M146.50,1358.91h15.5M671.00,1358.91h-15.5M146.50,1348.52h15.5M671.00,1348.52h-15.5M146.50,1340.45h15.5M671.00,1340.45h-15.5M146.50,1333.86h15.5M671.00,1333.86h-15.5M146.50,1328.29h15.5M671.00,1328.29h-15.5M146.50,1323.46h15.5M671.00,1323.46h-15.5M146.50,1319.21h15.5M671.00,1319.21h-15.5M146.50,1315.40h31M671.00,1315.40h-31M146.50,1290.35h15.5M671.00,1290.35h-15.5M146.50,1275.69h15.5M671.00,1275.69h-15.5M146.50,1265.30h15.5M671.00,1265.30h-15.5M146.50,1257.23h15.5M671.00,1257.23h-15.5M146.50,1250.64h15.5M671.00,1250.64h-15.5M146.50,1245.07h15.5M671.00,1245.07h-15.5M146.50,1240.24h15.5M671.00,1240.24h-15.5M146.50,1235.99h15.5M671.00,1235.99h-15.5M146.50,1232.18h31M671.00,1232.18h-31M146.50,1207.13h15.5M671.00,1207.13h-15.5M146.50,1192.47h15.5M671.00,1192.47h-15.5M146.50,1182.08h15.5M671.00,1182.08h-15.5M146.50,1174.01h15.5M671.00,1174.01h-15.5M146.50,1167.42h15.5M671.00,1167.42h-15.5M146.50,1161.85h15.5M671.00,1161.85h-15.5M146.50,1157.02h15.5M671.00,1157.02h-15.5M146.50,1152.77h15.5M671.00,1152.77h-15.5M146.50,1148.96h31M671.00,1148.96h-31M146.50,1123.91h15.5M671.00,1123.91h-15.5M146.50,1109.25h15.5M671.00,1109.25h-15.5M146.50,1098.86h15.5M671.00,1098.86h-15.5M146.50,1090.79h15.5M671.00,1090.79h-15.5M146.50,1084.20h15.5M671.00,1084.20h-15.5M146.50,1078.63h15.5M671.00,1078.63h-15.5M146.50,1073.80h15.5M671.00,1073.80h-15.5M146.50,1069.55h15.5M671.00,1069.55h-15.5M146.50,1065.74h31M671.00,1065.74h-31M146.50,1040.69h15.5M671.00,1040.69h-15.5M146.50,1026.03h15.5M671.00,1026.03h-15.5M146.50,1015.64h15.5M671.00,1015.64h-15.5M146.50,1007.57h15.5M671.00,1007.57h-15.5M146.50,1000.98h15.5M671.00,1000.98h-15.5M146.50,995.41h15.5M671.00,995.41h-15.5M146.50,990.58h15.5M671.00,990.58h-15.5M146.50,986.33h15.5M671.00,986.33h-15.5M146.50,982.52h31M671.00,982.52h-31M146.50,957.47h15.5M671.00,957.47h-15.5M146.50,942.81h15.5M671.00,942.81h-15.5M146.50,932.42h15.5M671.00,932.42h-15.5M146.50,924.35h15.5M671.00,924.35h-15.5M146.50,917.76h15.5M671.00,917.76h-15.5M146.50,912.19h15.5M671.00,912.19h-15.5M146.50,907.36h15.5M671.00,907.36h-15.5M146.50,903.11h15.5M671.00,903.11h-15.5M146.50,899.30h31M671.00,899.30h-31M146.50,874.25h15.5M671.00,874.25h-15.5" stroke="#000" stroke-width="2.3" fill="none"/>
<line x1="146.5" y1="1242.2" x2="630.2" y2="874.4" stroke="#000" stroke-width="3.7"/>
<line x1="318.2" y1="1320.2" x2="671.0" y2="939.2" stroke="#000" stroke-width="3.7"/>
<rect x="192.00" y="1131.50" width="33.2" height="33.2" fill="none" stroke="#000" stroke-width="3.6"/>
<circle cx="208.60" cy="1148.10" r="2.10" fill="#000"/>
<rect x="250.10" y="1111.10" width="33.2" height="33.2" fill="none" stroke="#000" stroke-width="3.6"/>
<circle cx="266.70" cy="1127.70" r="2.10" fill="#000"/>
<rect x="316.90" y="1078.60" width="33.2" height="33.2" fill="none" stroke="#000" stroke-width="3.6"/>
<circle cx="333.50" cy="1095.20" r="2.10" fill="#000"/>
<rect x="359.40" y="1051.30" width="33.2" height="33.2" fill="none" stroke="#000" stroke-width="3.6"/>
<circle cx="376.00" cy="1067.90" r="2.10" fill="#000"/>
<rect x="424.10" y="1001.30" width="33.2" height="33.2" fill="none" stroke="#000" stroke-width="3.6"/>
<circle cx="440.70" cy="1017.90" r="2.10" fill="#000"/>
<rect x="465.90" y="969.50" width="33.2" height="33.2" fill="none" stroke="#000" stroke-width="3.6"/>
<circle cx="482.50" cy="986.10" r="2.10" fill="#000"/>
<rect x="519.20" y="932.90" width="33.2" height="33.2" fill="none" stroke="#000" stroke-width="3.6"/>
<circle cx="535.80" cy="949.50" r="2.10" fill="#000"/>
<rect x="555.40" y="911.50" width="33.2" height="33.2" fill="none" stroke="#000" stroke-width="3.6"/>
<circle cx="572.00" cy="928.10" r="2.10" fill="#000"/>
<circle cx="208.60" cy="1333.90" r="16.5" fill="none" stroke="#000" stroke-width="3.8"/><circle cx="208.60" cy="1333.90" r="2.0" fill="#000"/>
<circle cx="266.80" cy="1312.10" r="16.5" fill="none" stroke="#000" stroke-width="3.8"/><circle cx="266.80" cy="1312.10" r="2.0" fill="#000"/>
<circle cx="333.60" cy="1275.70" r="16.5" fill="none" stroke="#000" stroke-width="3.8"/><circle cx="333.60" cy="1275.70" r="2.0" fill="#000"/>
<circle cx="375.90" cy="1250.10" r="16.5" fill="none" stroke="#000" stroke-width="3.8"/><circle cx="375.90" cy="1250.10" r="2.0" fill="#000"/>
<circle cx="440.00" cy="1186.40" r="16.5" fill="none" stroke="#000" stroke-width="3.8"/><circle cx="440.00" cy="1186.40" r="2.0" fill="#000"/>
<circle cx="480.90" cy="1142.00" r="16.5" fill="none" stroke="#000" stroke-width="3.8"/><circle cx="480.90" cy="1142.00" r="2.0" fill="#000"/>
<circle cx="535.80" cy="1094.50" r="16.5" fill="none" stroke="#000" stroke-width="3.8"/><circle cx="535.80" cy="1094.50" r="2.0" fill="#000"/>
<circle cx="572.00" cy="1064.90" r="16.5" fill="none" stroke="#000" stroke-width="3.8"/><circle cx="572.00" cy="1064.90" r="2.0" fill="#000"/>
<circle cx="629.80" cy="1186.10" r="16.5" fill="none" stroke="#000" stroke-width="3.8"/><circle cx="629.80" cy="1186.10" r="2.0" fill="#000"/>
<rect x="613.20" y="1243.40" width="33.2" height="33.2" fill="none" stroke="#000" stroke-width="3.6"/>
<circle cx="629.80" cy="1260.00" r="2.10" fill="#000"/>
<rect x="146.5" y="874.4" width="524.50" height="524.20" fill="none" stroke="#000" stroke-width="4.0"/>
<path d="M0.3795,0 L0.3795,-0.698 L0.312,-0.698 C0.292,-0.632 0.242,-0.587 0.108,-0.567 L0.108,-0.495 L0.275,-0.495 L0.275,0 Z" transform="translate(60.95,1413.82) scale(35)" fill="#000"/>
<text x="80.41" y="1413.82" font-family="Liberation Sans" font-size="35" fill="#000">0</text>
<text x="99.87" y="1397.42" font-family="Liberation Sans" font-size="29" fill="#000">-</text>
<text x="109.53" y="1397.42" font-family="Liberation Sans" font-size="29" fill="#000">6</text>
<path d="M0.3795,0 L0.3795,-0.698 L0.312,-0.698 C0.292,-0.632 0.242,-0.587 0.108,-0.567 L0.108,-0.495 L0.275,-0.495 L0.275,0 Z" transform="translate(60.95,1330.60) scale(35)" fill="#000"/>
<text x="80.41" y="1330.60" font-family="Liberation Sans" font-size="35" fill="#000">0</text>
<text x="99.87" y="1314.20" font-family="Liberation Sans" font-size="29" fill="#000">-</text>
<text x="109.53" y="1314.20" font-family="Liberation Sans" font-size="29" fill="#000">5</text>
<path d="M0.3795,0 L0.3795,-0.698 L0.312,-0.698 C0.292,-0.632 0.242,-0.587 0.108,-0.567 L0.108,-0.495 L0.275,-0.495 L0.275,0 Z" transform="translate(60.95,1247.38) scale(35)" fill="#000"/>
<text x="80.41" y="1247.38" font-family="Liberation Sans" font-size="35" fill="#000">0</text>
<text x="99.87" y="1230.98" font-family="Liberation Sans" font-size="29" fill="#000">-</text>
<text x="109.53" y="1230.98" font-family="Liberation Sans" font-size="29" fill="#000">4</text>
<path d="M0.3795,0 L0.3795,-0.698 L0.312,-0.698 C0.292,-0.632 0.242,-0.587 0.108,-0.567 L0.108,-0.495 L0.275,-0.495 L0.275,0 Z" transform="translate(60.95,1164.16) scale(35)" fill="#000"/>
<text x="80.41" y="1164.16" font-family="Liberation Sans" font-size="35" fill="#000">0</text>
<text x="99.87" y="1147.76" font-family="Liberation Sans" font-size="29" fill="#000">-</text>
<text x="109.53" y="1147.76" font-family="Liberation Sans" font-size="29" fill="#000">3</text>
<path d="M0.3795,0 L0.3795,-0.698 L0.312,-0.698 C0.292,-0.632 0.242,-0.587 0.108,-0.567 L0.108,-0.495 L0.275,-0.495 L0.275,0 Z" transform="translate(60.95,1080.94) scale(35)" fill="#000"/>
<text x="80.41" y="1080.94" font-family="Liberation Sans" font-size="35" fill="#000">0</text>
<text x="99.87" y="1064.54" font-family="Liberation Sans" font-size="29" fill="#000">-</text>
<text x="109.53" y="1064.54" font-family="Liberation Sans" font-size="29" fill="#000">2</text>
<path d="M0.3795,0 L0.3795,-0.698 L0.312,-0.698 C0.292,-0.632 0.242,-0.587 0.108,-0.567 L0.108,-0.495 L0.275,-0.495 L0.275,0 Z" transform="translate(60.95,997.72) scale(35)" fill="#000"/>
<text x="80.41" y="997.72" font-family="Liberation Sans" font-size="35" fill="#000">0</text>
<text x="99.87" y="981.32" font-family="Liberation Sans" font-size="29" fill="#000">-</text>
<path d="M0.3795,0 L0.3795,-0.698 L0.312,-0.698 C0.292,-0.632 0.242,-0.587 0.108,-0.567 L0.108,-0.495 L0.275,-0.495 L0.275,0 Z" transform="translate(109.53,981.32) scale(29)" fill="#000"/>
<path d="M0.3795,0 L0.3795,-0.698 L0.312,-0.698 C0.292,-0.632 0.242,-0.587 0.108,-0.567 L0.108,-0.495 L0.275,-0.495 L0.275,0 Z" transform="translate(70.61,914.50) scale(35)" fill="#000"/>
<text x="90.07" y="914.50" font-family="Liberation Sans" font-size="35" fill="#000">0</text>
<text x="109.53" y="898.10" font-family="Liberation Sans" font-size="29" fill="#000">0</text>
<path d="M0.3795,0 L0.3795,-0.698 L0.312,-0.698 C0.292,-0.632 0.242,-0.587 0.108,-0.567 L0.108,-0.495 L0.275,-0.495 L0.275,0 Z" transform="translate(296.95,1448.00) scale(35)" fill="#000"/>
<text x="316.41" y="1448.00" font-family="Liberation Sans" font-size="35" fill="#000">0</text>
<text x="335.87" y="1431.60" font-family="Liberation Sans" font-size="29" fill="#000">-</text>
<path d="M0.3795,0 L0.3795,-0.698 L0.312,-0.698 C0.292,-0.632 0.242,-0.587 0.108,-0.567 L0.108,-0.495 L0.275,-0.495 L0.275,0 Z" transform="translate(345.53,1431.60) scale(29)" fill="#000"/>
<path d="M0.3795,0 L0.3795,-0.698 L0.312,-0.698 C0.292,-0.632 0.242,-0.587 0.108,-0.567 L0.108,-0.495 L0.275,-0.495 L0.275,0 Z" transform="translate(564.68,1448.00) scale(35)" fill="#000"/>
<text x="584.14" y="1448.00" font-family="Liberation Sans" font-size="35" fill="#000">0</text>
<text x="603.60" y="1431.60" font-family="Liberation Sans" font-size="29" fill="#000">0</text>
<path d="M199.14,987.00 C185.68,996.00 185.68,1023.00 199.14,1032.00 L199.90,1031.33 C189.82,1022.10 189.82,996.90 199.90,987.67 Z" fill="#231f20"/>
<text transform="translate(204.10,1020.96) scale(1.0921,1)" font-family="Liberation Serif" font-style="normal" font-size="45.20" fill="#231f20" stroke="#fff" stroke-width="0.19">b</text>
<path d="M231.76,987.00 C245.35,996.00 245.35,1023.00 231.76,1032.00 L231.00,1031.33 C241.21,1022.10 241.21,996.90 231.00,987.67 Z" fill="#231f20"/>
<path d="M191.64,930.15 C192.91,926.69 195.02,925.42 197.97,925.24 L211.27,924.87" fill="none" stroke="#231f20" stroke-width="1.82" stroke-linecap="round"/><path d="M201.77,925.42 C200.72,930.88 198.82,936.34 198.61,940.53" fill="none" stroke="#231f20" stroke-width="2.64" stroke-linecap="round"/>
<text transform="translate(209.35,953.49) scale(1.2884,1)" font-family="Liberation Serif" font-style="italic" font-size="29.88" fill="#231f20" stroke="#fff" stroke-width="0.33">α</text>
<text transform="translate(232.18,954.00) scale(1.2212,1)" font-family="Liberation Serif" font-style="normal" font-size="30.53" fill="#231f20" stroke="#fff" stroke-width="0.28">0</text>
<line x1="217.20" y1="915.90" x2="238.40" y2="915.90" stroke="#231f20" stroke-width="1.9"/>
<text transform="translate(242.60,923.60) scale(1.1140,1)" font-family="Liberation Serif" font-style="normal" font-size="30.60" fill="#231f20" stroke="#fff" stroke-width="0.16">1</text>
<path d="M305.20,924.15 C297.40,924.15 294.06,929.13 291.83,932.45 C289.05,936.60 286.82,940.75 283.48,940.75 C279.58,940.75 277.35,936.60 277.35,932.45 C277.35,928.30 279.58,924.15 283.48,924.15 C286.82,924.15 289.05,928.30 291.83,932.45 C294.06,935.77 297.40,940.75 305.20,940.75" fill="none" stroke="#231f20" stroke-width="2.1"/>
<path d="M332.56,911.20 C319.34,919.22 319.34,943.28 332.56,951.30 L333.30,950.70 C323.02,942.48 323.02,920.02 333.30,911.80 Z" fill="#231f20"/>
<path d="M338.98,915.03 L364.76,915.03" fill="none" stroke="#231f20" stroke-width="1.86"/><path d="M339.56,915.47 C338.69,917.39 337.83,920.13 336.96,922.87" fill="none" stroke="#231f20" stroke-width="1.51"/><path d="M364.47,915.47 C363.89,917.66 363.46,920.13 363.17,923.14" fill="none" stroke="#231f20" stroke-width="1.37"/><path d="M351.80,915.47 L346.04,940.27" fill="none" stroke="#231f20" stroke-width="3.23"/><path d="M337.83,940.76 L353.09,940.76" fill="none" stroke="#231f20" stroke-width="1.48"/>
<line x1="378.90" y1="931.20" x2="404.20" y2="931.20" stroke="#231f20" stroke-width="2.0"/>
<path d="M421.88,915.03 L447.66,915.03" fill="none" stroke="#231f20" stroke-width="1.86"/><path d="M422.46,915.47 C421.59,917.39 420.73,920.13 419.86,922.87" fill="none" stroke="#231f20" stroke-width="1.51"/><path d="M447.37,915.47 C446.79,917.66 446.36,920.13 446.07,923.14" fill="none" stroke="#231f20" stroke-width="1.37"/><path d="M434.70,915.47 L428.94,940.27" fill="none" stroke="#231f20" stroke-width="3.23"/><path d="M420.73,940.76 L435.99,940.76" fill="none" stroke="#231f20" stroke-width="1.48"/>
<text transform="translate(443.23,946.11) scale(1.1869,1)" font-family="Liberation Serif" font-style="italic" font-size="29.32" fill="#231f20" stroke="#fff" stroke-width="0.23">c</text>
<path d="M464.74,911.20 C477.83,919.22 477.83,943.28 464.74,951.30 L464.00,950.70 C474.15,942.48 474.15,920.02 464.00,911.80 Z" fill="#231f20"/>
<path d="M479.25,918.88 C480.53,916.04 482.36,914.62 484.74,914.31" fill="none" stroke="#231f20" stroke-width="1.02" stroke-linecap="round"/><path d="M482.73,915.13 C484.56,914.21 487.85,914.21 489.68,916.24 C490.96,917.87 491.51,919.90 491.60,922.53" fill="none" stroke="#231f20" stroke-width="1.73" stroke-linecap="butt"/><path d="M491.60,922.33 C491.60,925.58 490.59,929.23 489.50,933.09" fill="none" stroke="#231f20" stroke-width="1.42" stroke-linecap="round"/><path d="M496.36,914.01 L491.51,924.16" fill="none" stroke="#231f20" stroke-width="0.97" stroke-linecap="round"/>
<path d="M549.56,1189.86 C551.11,1186.30 553.32,1184.52 556.19,1184.14" fill="none" stroke="#231f20" stroke-width="1.27" stroke-linecap="round"/><path d="M553.76,1185.16 C555.97,1184.02 559.95,1184.02 562.16,1186.56 C563.71,1188.59 564.37,1191.13 564.48,1194.43" fill="none" stroke="#231f20" stroke-width="2.16" stroke-linecap="butt"/><path d="M564.48,1194.18 C564.48,1198.24 563.26,1202.81 561.94,1207.64" fill="none" stroke="#231f20" stroke-width="1.78" stroke-linecap="round"/><path d="M570.23,1183.76 L564.37,1196.46" fill="none" stroke="#231f20" stroke-width="1.22" stroke-linecap="round"/>
<circle cx="560.20" cy="1175.60" r="2.40" fill="#231f20"/>
<text transform="translate(570.71,1205.10) scale(1.1629,1)" font-family="Liberation Serif" font-style="italic" font-size="30.56" fill="#231f20" stroke="#fff" stroke-width="0.21">c</text>
<path d="M529.93,1263.57 C531.17,1260.21 533.24,1258.97 536.14,1258.79 L549.18,1258.44" fill="none" stroke="#231f20" stroke-width="1.77" stroke-linecap="round"/><path d="M539.86,1258.97 C538.83,1264.28 536.97,1269.59 536.76,1273.66" fill="none" stroke="#231f20" stroke-width="2.57" stroke-linecap="round"/>
<text transform="translate(547.37,1287.61) scale(1.3240,1)" font-family="Liberation Serif" font-style="italic" font-size="28.63" fill="#231f20" stroke="#fff" stroke-width="0.35">α</text>
<text transform="translate(570.40,1288.01) scale(1.2235,1)" font-family="Liberation Serif" font-style="normal" font-size="30.08" fill="#231f20" stroke="#fff" stroke-width="0.27">0</text>
<line x1="555.40" y1="1249.40" x2="576.10" y2="1249.40" stroke="#231f20" stroke-width="1.7"/>
<text transform="translate(580.48,1257.20) scale(1.1459,1)" font-family="Liberation Serif" font-style="normal" font-size="29.99" fill="#231f20" stroke="#fff" stroke-width="0.19">1</text>
<path d="M295.66,1343.43 C297.20,1339.73 299.40,1337.88 302.26,1337.49" fill="none" stroke="#231f20" stroke-width="1.32" stroke-linecap="round"/><path d="M299.84,1338.54 C302.04,1337.36 306.00,1337.36 308.20,1340.00 C309.74,1342.11 310.40,1344.75 310.51,1348.18" fill="none" stroke="#231f20" stroke-width="2.24" stroke-linecap="butt"/><path d="M310.51,1347.92 C310.51,1352.14 309.30,1356.89 307.98,1361.91" fill="none" stroke="#231f20" stroke-width="1.85" stroke-linecap="round"/><path d="M316.23,1337.09 L310.40,1350.29" fill="none" stroke="#231f20" stroke-width="1.27" stroke-linecap="round"/>
<circle cx="306.10" cy="1329.40" r="2.40" fill="#231f20"/>
<text transform="translate(316.82,1359.51) scale(1.1954,1)" font-family="Liberation Serif" font-style="italic" font-size="29.32" fill="#231f20" stroke="#fff" stroke-width="0.24">c</text>
<path d="M377.70,1337.35 C369.93,1337.35 366.60,1342.21 364.38,1345.45 C361.60,1349.50 359.38,1353.55 356.06,1353.55 C352.17,1353.55 349.95,1349.50 349.95,1345.45 C349.95,1341.40 352.17,1337.35 356.06,1337.35 C359.38,1337.35 361.60,1341.40 364.38,1345.45 C366.60,1348.69 369.93,1353.55 377.70,1353.55" fill="none" stroke="#231f20" stroke-width="2.1"/>
<path d="M405.86,1324.10 C392.64,1332.08 392.64,1356.02 405.86,1364.00 L406.60,1363.40 C396.30,1355.22 396.30,1332.88 406.60,1324.70 Z" fill="#231f20"/>
<path d="M411.68,1327.82 L437.46,1327.82" fill="none" stroke="#231f20" stroke-width="1.85"/><path d="M412.26,1328.26 C411.39,1330.16 410.53,1332.88 409.66,1335.60" fill="none" stroke="#231f20" stroke-width="1.50"/><path d="M437.17,1328.26 C436.59,1330.44 436.16,1332.88 435.87,1335.88" fill="none" stroke="#231f20" stroke-width="1.36"/><path d="M424.50,1328.26 L418.74,1352.88" fill="none" stroke="#231f20" stroke-width="3.21"/><path d="M410.53,1353.37 L425.79,1353.37" fill="none" stroke="#231f20" stroke-width="1.47"/>
<line x1="452.10" y1="1344.10" x2="477.60" y2="1344.10" stroke="#231f20" stroke-width="2.1"/>
<path d="M493.81,1328.02 L519.85,1328.02" fill="none" stroke="#231f20" stroke-width="1.84"/><path d="M494.39,1328.45 C493.52,1330.35 492.65,1333.06 491.77,1335.77" fill="none" stroke="#231f20" stroke-width="1.49"/><path d="M519.56,1328.45 C518.98,1330.62 518.54,1333.06 518.25,1336.04" fill="none" stroke="#231f20" stroke-width="1.36"/><path d="M506.76,1328.45 L500.94,1352.98" fill="none" stroke="#231f20" stroke-width="3.20"/><path d="M492.65,1353.47 L508.07,1353.47" fill="none" stroke="#231f20" stroke-width="1.46"/>
<text transform="translate(515.81,1359.41) scale(1.1954,1)" font-family="Liberation Serif" font-style="italic" font-size="29.52" fill="#231f20" stroke="#fff" stroke-width="0.24">c</text>
<path d="M536.96,1323.80 C550.42,1331.84 550.42,1355.96 536.96,1364.00 L536.20,1363.40 C546.74,1355.16 546.74,1332.64 536.20,1324.40 Z" fill="#231f20"/>
<path d="M551.75,1332.42 C553.05,1329.66 554.90,1328.28 557.31,1327.99" fill="none" stroke="#231f20" stroke-width="0.99" stroke-linecap="round"/><path d="M555.27,1328.77 C557.12,1327.89 560.45,1327.89 562.30,1329.86 C563.60,1331.43 564.15,1333.40 564.24,1335.96" fill="none" stroke="#231f20" stroke-width="1.67" stroke-linecap="butt"/><path d="M564.24,1335.77 C564.24,1338.92 563.23,1342.47 562.12,1346.21" fill="none" stroke="#231f20" stroke-width="1.38" stroke-linecap="round"/><path d="M569.05,1327.69 L564.15,1337.54" fill="none" stroke="#231f20" stroke-width="0.95" stroke-linecap="round"/>
<text transform="translate(572.07,1340.60) scale(1.0191,1)" font-family="Liberation Serif" font-style="italic" font-size="31.05" fill="#231f20">δ</text>
<path d="M349.14,1460.10 C335.55,1469.12 335.55,1496.18 349.14,1505.20 L349.90,1504.52 C339.70,1495.28 339.70,1470.02 349.90,1460.78 Z" fill="#231f20"/>
<path d="M356.73,1464.44 L384.74,1464.44" fill="none" stroke="#231f20" stroke-width="2.07"/><path d="M357.36,1464.93 C356.42,1467.06 355.48,1470.11 354.54,1473.16" fill="none" stroke="#231f20" stroke-width="1.68"/><path d="M384.43,1464.93 C383.80,1467.37 383.33,1470.11 383.02,1473.47" fill="none" stroke="#231f20" stroke-width="1.53"/><path d="M370.66,1464.93 L364.40,1492.53" fill="none" stroke="#231f20" stroke-width="3.60"/><path d="M355.48,1493.08 L372.07,1493.08" fill="none" stroke="#231f20" stroke-width="1.65"/>
<line x1="399.20" y1="1482.50" x2="427.20" y2="1482.50" stroke="#231f20" stroke-width="2.3"/>
<path d="M446.03,1464.44 L474.04,1464.44" fill="none" stroke="#231f20" stroke-width="2.07"/><path d="M446.66,1464.93 C445.72,1467.06 444.78,1470.11 443.84,1473.16" fill="none" stroke="#231f20" stroke-width="1.68"/><path d="M473.73,1464.93 C473.10,1467.37 472.63,1470.11 472.32,1473.47" fill="none" stroke="#231f20" stroke-width="1.53"/><path d="M459.96,1464.93 L453.70,1492.53" fill="none" stroke="#231f20" stroke-width="3.60"/><path d="M444.78,1493.08 L461.37,1493.08" fill="none" stroke="#231f20" stroke-width="1.65"/>
<text transform="translate(469.82,1498.81) scale(1.1624,1)" font-family="Liberation Serif" font-style="italic" font-size="30.15" fill="#231f20" stroke="#fff" stroke-width="0.21">c</text>
<path d="M491.00,1460.10 C505.21,1469.12 505.21,1496.18 491.00,1505.20 L490.20,1504.52 C501.07,1495.28 501.07,1470.02 490.20,1460.78 Z" fill="#231f20"/>
<text transform="translate(508.30,1504.54) scale(0.9449,1)" font-family="Liberation Serif" font-style="normal" font-size="67.42" fill="#231f20">/</text>
<path d="M533.03,1464.44 L561.04,1464.44" fill="none" stroke="#231f20" stroke-width="2.07"/><path d="M533.66,1464.93 C532.72,1467.06 531.78,1470.11 530.84,1473.16" fill="none" stroke="#231f20" stroke-width="1.68"/><path d="M560.73,1464.93 C560.10,1467.37 559.63,1470.11 559.32,1473.47" fill="none" stroke="#231f20" stroke-width="1.53"/><path d="M546.96,1464.93 L540.70,1492.53" fill="none" stroke="#231f20" stroke-width="3.60"/><path d="M531.78,1493.08 L548.37,1493.08" fill="none" stroke="#231f20" stroke-width="1.65"/>
<text transform="translate(556.41,1498.81) scale(1.1707,1)" font-family="Liberation Serif" font-style="italic" font-size="30.15" fill="#231f20" stroke="#fff" stroke-width="0.22">c</text>
<path d="M27.77,1218.28 C23.64,1216.61 21.57,1214.22 21.13,1211.11" fill="none" stroke="#231f20" stroke-width="1.47" stroke-linecap="round"/><path d="M22.31,1213.74 C20.98,1211.35 20.98,1207.05 23.93,1204.66 C26.29,1202.99 29.24,1202.27 33.08,1202.15" fill="none" stroke="#231f20" stroke-width="2.51" stroke-linecap="butt"/><path d="M32.78,1202.15 C37.50,1202.15 42.81,1203.46 48.41,1204.90" fill="none" stroke="#231f20" stroke-width="2.06" stroke-linecap="round"/><path d="M20.69,1195.94 L35.44,1202.27" fill="none" stroke="#231f20" stroke-width="1.42" stroke-linecap="round"/>
<circle cx="12.00" cy="1206.80" r="2.50" fill="#231f20"/>
<text transform="rotate(-90) translate(-1194.75,44.33) scale(1.2131,1)" font-family="Liberation Serif" font-style="italic" font-size="28.07" fill="#231f20" stroke="#fff" stroke-width="0.25">c</text>
<text transform="rotate(-90) translate(-1174.63,40.18) scale(0.7722,1)" font-family="Liberation Serif" font-style="normal" font-size="52.17" fill="#231f20">,</text>
<path d="M27.29,1123.80 C23.55,1122.44 22.17,1120.18 21.97,1117.02 L21.58,1102.78" fill="none" stroke="#231f20" stroke-width="1.97" stroke-linecap="round"/><path d="M22.17,1112.95 C28.08,1114.08 33.99,1116.11 38.52,1116.34" fill="none" stroke="#231f20" stroke-width="2.86" stroke-linecap="round"/>
<text transform="rotate(-90) translate(-1104.33,51.50) scale(1.2777,1)" font-family="Liberation Serif" font-style="italic" font-size="29.67" fill="#231f20" stroke="#fff" stroke-width="0.32">α</text>
<text transform="rotate(-90) translate(-1081.11,51.50) scale(1.1230,1)" font-family="Liberation Serif" font-style="normal" font-size="30.68" fill="#231f20" stroke="#fff" stroke-width="0.17">0</text>
<line x1="12.30" y1="1075.00" x2="12.30" y2="1096.00" stroke="#231f20" stroke-width="1.7"/>
<text transform="rotate(-90) translate(-1070.72,19.90) scale(1.1025,1)" font-family="Liberation Serif" font-style="normal" font-size="30.14" fill="#231f20" stroke="#fff" stroke-width="0.14">1</text>
</g>
<g id="pc">
<path d="M825.80,877.50v31M825.80,1401.60v-31M873.60,877.50v15.5M873.60,1401.60v-15.5M901.57,877.50v15.5M901.57,1401.60v-15.5M921.41,877.50v15.5M921.41,1401.60v-15.5M936.80,877.50v15.5M936.80,1401.60v-15.5M949.37,877.50v15.5M949.37,1401.60v-15.5M960.00,877.50v15.5M960.00,1401.60v-15.5M969.21,877.50v15.5M969.21,1401.60v-15.5M977.33,877.50v15.5M977.33,1401.60v-15.5M984.60,877.50v31M984.60,1401.60v-31M1032.40,877.50v15.5M1032.40,1401.60v-15.5M1060.37,877.50v15.5M1060.37,1401.60v-15.5M1080.21,877.50v15.5M1080.21,1401.60v-15.5M1095.60,877.50v15.5M1095.60,1401.60v-15.5M1108.17,877.50v15.5M1108.17,1401.60v-15.5M1118.80,877.50v15.5M1118.80,1401.60v-15.5M1128.01,877.50v15.5M1128.01,1401.60v-15.5M1136.13,877.50v15.5M1136.13,1401.60v-15.5M1143.40,877.50v31M1143.40,1401.60v-31M1191.20,877.50v15.5M1191.20,1401.60v-15.5M1219.17,877.50v15.5M1219.17,1401.60v-15.5M1239.01,877.50v15.5M1239.01,1401.60v-15.5M1254.40,877.50v15.5M1254.40,1401.60v-15.5M1266.97,877.50v15.5M1266.97,1401.60v-15.5M1277.60,877.50v15.5M1277.60,1401.60v-15.5M1286.81,877.50v15.5M1286.81,1401.60v-15.5M1294.93,877.50v15.5M1294.93,1401.60v-15.5M1302.20,877.50v31M1302.20,1401.60v-31M1350.00,877.50v15.5M1350.00,1401.60v-15.5" stroke="#000" stroke-width="2.3" fill="none"/>
<path d="M825.80,1401.62h31M1350.10,1401.62h-31M825.80,1366.38h15.5M1350.10,1366.38h-15.5M825.80,1345.76h15.5M1350.10,1345.76h-15.5M825.80,1331.13h15.5M1350.10,1331.13h-15.5M825.80,1319.78h15.5M1350.10,1319.78h-15.5M825.80,1310.51h15.5M1350.10,1310.51h-15.5M825.80,1302.68h15.5M1350.10,1302.68h-15.5M825.80,1295.89h15.5M1350.10,1295.89h-15.5M825.80,1289.90h15.5M1350.10,1289.90h-15.5M825.80,1284.54h31M1350.10,1284.54h-31M825.80,1249.30h15.5M1350.10,1249.30h-15.5M825.80,1228.68h15.5M1350.10,1228.68h-15.5M825.80,1214.05h15.5M1350.10,1214.05h-15.5M825.80,1202.70h15.5M1350.10,1202.70h-15.5M825.80,1193.43h15.5M1350.10,1193.43h-15.5M825.80,1185.60h15.5M1350.10,1185.60h-15.5M825.80,1178.81h15.5M1350.10,1178.81h-15.5M825.80,1172.82h15.5M1350.10,1172.82h-15.5M825.80,1167.46h31M1350.10,1167.46h-31M825.80,1132.22h15.5M1350.10,1132.22h-15.5M825.80,1111.60h15.5M1350.10,1111.60h-15.5M825.80,1096.97h15.5M1350.10,1096.97h-15.5M825.80,1085.62h15.5M1350.10,1085.62h-15.5M825.80,1076.35h15.5M1350.10,1076.35h-15.5M825.80,1068.52h15.5M1350.10,1068.52h-15.5M825.80,1061.73h15.5M1350.10,1061.73h-15.5M825.80,1055.74h15.5M1350.10,1055.74h-15.5M825.80,1050.38h31M1350.10,1050.38h-31M825.80,1015.14h15.5M1350.10,1015.14h-15.5M825.80,994.52h15.5M1350.10,994.52h-15.5M825.80,979.89h15.5M1350.10,979.89h-15.5M825.80,968.54h15.5M1350.10,968.54h-15.5M825.80,959.27h15.5M1350.10,959.27h-15.5M825.80,951.44h15.5M1350.10,951.44h-15.5M825.80,944.65h15.5M1350.10,944.65h-15.5M825.80,938.66h15.5M1350.10,938.66h-15.5M825.80,933.30h31M1350.10,933.30h-31M825.80,898.06h15.5M1350.10,898.06h-15.5M825.80,877.44h15.5M1350.10,877.44h-15.5" stroke="#000" stroke-width="2.3" fill="none"/>
<circle cx="879.30" cy="933.20" r="16.5" fill="none" stroke="#000" stroke-width="3.8"/><circle cx="879.30" cy="933.20" r="2.0" fill="#000"/>
<circle cx="921.00" cy="974.20" r="16.5" fill="none" stroke="#000" stroke-width="3.8"/><circle cx="921.00" cy="974.20" r="2.0" fill="#000"/>
<circle cx="991.20" cy="1040.60" r="16.5" fill="none" stroke="#000" stroke-width="3.8"/><circle cx="991.20" cy="1040.60" r="2.0" fill="#000"/>
<circle cx="1053.20" cy="1103.20" r="16.5" fill="none" stroke="#000" stroke-width="3.8"/><circle cx="1053.20" cy="1103.20" r="2.0" fill="#000"/>
<circle cx="1147.70" cy="1192.90" r="16.5" fill="none" stroke="#000" stroke-width="3.8"/><circle cx="1147.70" cy="1192.90" r="2.0" fill="#000"/>
<circle cx="1199.10" cy="1228.30" r="16.5" fill="none" stroke="#000" stroke-width="3.8"/><circle cx="1199.10" cy="1228.30" r="2.0" fill="#000"/>
<circle cx="1262.50" cy="1279.50" r="16.5" fill="none" stroke="#000" stroke-width="3.8"/><circle cx="1262.50" cy="1279.50" r="2.0" fill="#000"/>
<circle cx="1300.90" cy="1310.30" r="16.5" fill="none" stroke="#000" stroke-width="3.8"/><circle cx="1300.90" cy="1310.30" r="2.0" fill="#000"/>
<line x1="836.1" y1="877.5" x2="1337.6" y2="1401.6" stroke="#0072b2" stroke-width="4.3"/>
<rect x="825.8" y="877.5" width="524.30" height="524.10" fill="none" stroke="#000" stroke-width="4.4"/>
<path d="M0.3795,0 L0.3795,-0.698 L0.312,-0.698 C0.292,-0.632 0.242,-0.587 0.108,-0.567 L0.108,-0.495 L0.275,-0.495 L0.275,0 Z" transform="translate(740.30,1416.92) scale(35)" fill="#000"/>
<text x="759.76" y="1416.92" font-family="Liberation Sans" font-size="35" fill="#000">0</text>
<text x="779.22" y="1400.52" font-family="Liberation Sans" font-size="29" fill="#000">-</text>
<text x="788.88" y="1400.52" font-family="Liberation Sans" font-size="29" fill="#000">6</text>
<path d="M0.3795,0 L0.3795,-0.698 L0.312,-0.698 C0.292,-0.632 0.242,-0.587 0.108,-0.567 L0.108,-0.495 L0.275,-0.495 L0.275,0 Z" transform="translate(740.30,1299.84) scale(35)" fill="#000"/>
<text x="759.76" y="1299.84" font-family="Liberation Sans" font-size="35" fill="#000">0</text>
<text x="779.22" y="1283.44" font-family="Liberation Sans" font-size="29" fill="#000">-</text>
<text x="788.88" y="1283.44" font-family="Liberation Sans" font-size="29" fill="#000">5</text>
<path d="M0.3795,0 L0.3795,-0.698 L0.312,-0.698 C0.292,-0.632 0.242,-0.587 0.108,-0.567 L0.108,-0.495 L0.275,-0.495 L0.275,0 Z" transform="translate(740.30,1182.76) scale(35)" fill="#000"/>
<text x="759.76" y="1182.76" font-family="Liberation Sans" font-size="35" fill="#000">0</text>
<text x="779.22" y="1166.36" font-family="Liberation Sans" font-size="29" fill="#000">-</text>
<text x="788.88" y="1166.36" font-family="Liberation Sans" font-size="29" fill="#000">4</text>
<path d="M0.3795,0 L0.3795,-0.698 L0.312,-0.698 C0.292,-0.632 0.242,-0.587 0.108,-0.567 L0.108,-0.495 L0.275,-0.495 L0.275,0 Z" transform="translate(740.30,1065.68) scale(35)" fill="#000"/>
<text x="759.76" y="1065.68" font-family="Liberation Sans" font-size="35" fill="#000">0</text>
<text x="779.22" y="1049.28" font-family="Liberation Sans" font-size="29" fill="#000">-</text>
<text x="788.88" y="1049.28" font-family="Liberation Sans" font-size="29" fill="#000">3</text>
<path d="M0.3795,0 L0.3795,-0.698 L0.312,-0.698 C0.292,-0.632 0.242,-0.587 0.108,-0.567 L0.108,-0.495 L0.275,-0.495 L0.275,0 Z" transform="translate(740.30,948.60) scale(35)" fill="#000"/>
<text x="759.76" y="948.60" font-family="Liberation Sans" font-size="35" fill="#000">0</text>
<text x="779.22" y="932.20" font-family="Liberation Sans" font-size="29" fill="#000">-</text>
<text x="788.88" y="932.20" font-family="Liberation Sans" font-size="29" fill="#000">2</text>
<path d="M0.3795,0 L0.3795,-0.698 L0.312,-0.698 C0.292,-0.632 0.242,-0.587 0.108,-0.567 L0.108,-0.495 L0.275,-0.495 L0.275,0 Z" transform="translate(797.78,1451.70) scale(35)" fill="#000"/>
<text x="817.24" y="1451.70" font-family="Liberation Sans" font-size="35" fill="#000">0</text>
<text x="836.70" y="1435.30" font-family="Liberation Sans" font-size="29" fill="#000">0</text>
<path d="M0.3795,0 L0.3795,-0.698 L0.312,-0.698 C0.292,-0.632 0.242,-0.587 0.108,-0.567 L0.108,-0.495 L0.275,-0.495 L0.275,0 Z" transform="translate(956.58,1451.70) scale(35)" fill="#000"/>
<text x="976.04" y="1451.70" font-family="Liberation Sans" font-size="35" fill="#000">0</text>
<path d="M0.3795,0 L0.3795,-0.698 L0.312,-0.698 C0.292,-0.632 0.242,-0.587 0.108,-0.567 L0.108,-0.495 L0.275,-0.495 L0.275,0 Z" transform="translate(995.50,1435.30) scale(29)" fill="#000"/>
<path d="M0.3795,0 L0.3795,-0.698 L0.312,-0.698 C0.292,-0.632 0.242,-0.587 0.108,-0.567 L0.108,-0.495 L0.275,-0.495 L0.275,0 Z" transform="translate(1115.38,1451.70) scale(35)" fill="#000"/>
<text x="1134.84" y="1451.70" font-family="Liberation Sans" font-size="35" fill="#000">0</text>
<text x="1154.30" y="1435.30" font-family="Liberation Sans" font-size="29" fill="#000">2</text>
<path d="M0.3795,0 L0.3795,-0.698 L0.312,-0.698 C0.292,-0.632 0.242,-0.587 0.108,-0.567 L0.108,-0.495 L0.275,-0.495 L0.275,0 Z" transform="translate(1274.18,1451.70) scale(35)" fill="#000"/>
<text x="1293.64" y="1451.70" font-family="Liberation Sans" font-size="35" fill="#000">0</text>
<text x="1313.10" y="1435.30" font-family="Liberation Sans" font-size="29" fill="#000">3</text>
<path d="M1251.24,925.20 C1237.65,934.22 1237.65,961.28 1251.24,970.30 L1252.00,969.62 C1241.80,960.38 1241.80,935.12 1252.00,925.88 Z" fill="#231f20"/>
<text transform="translate(1254.39,959.28) scale(1.0923,1)" font-family="Liberation Serif" font-style="normal" font-size="43.46" fill="#231f20" stroke="#fff" stroke-width="0.18">c</text>
<path d="M1279.06,925.20 C1292.65,934.22 1292.65,961.28 1279.06,970.30 L1278.30,969.62 C1288.50,960.38 1288.50,935.12 1278.30,925.88 Z" fill="#231f20"/>
<path d="M1126.50,1080.00 C1118.07,1080.00 1114.46,1085.55 1112.05,1089.25 C1109.04,1093.88 1106.63,1098.50 1103.02,1098.50 C1098.81,1098.50 1096.40,1093.88 1096.40,1089.25 C1096.40,1084.62 1098.81,1080.00 1103.02,1080.00 C1106.63,1080.00 1109.04,1084.62 1112.05,1089.25 C1114.46,1092.95 1118.07,1098.50 1126.50,1098.50" fill="none" stroke="#231f20" stroke-width="2.2"/>
<path d="M1143.78,1086.17 C1145.11,1082.33 1147.32,1080.92 1150.41,1080.72 L1164.34,1080.31" fill="none" stroke="#231f20" stroke-width="2.02" stroke-linecap="round"/><path d="M1154.39,1080.92 C1153.29,1086.98 1151.30,1093.04 1151.08,1097.69" fill="none" stroke="#231f20" stroke-width="2.93" stroke-linecap="round"/>
<text transform="translate(1162.85,1110.38) scale(1.2515,1)" font-family="Liberation Serif" font-style="italic" font-size="30.92" fill="#231f20" stroke="#fff" stroke-width="0.31">α</text>
<text transform="translate(1186.26,1110.40) scale(1.1461,1)" font-family="Liberation Serif" font-style="normal" font-size="30.68" fill="#231f20" stroke="#fff" stroke-width="0.20">0</text>
<line x1="1171.30" y1="1071.50" x2="1192.40" y2="1071.50" stroke="#231f20" stroke-width="1.9"/>
<text transform="translate(1196.76,1079.10) scale(1.0288,1)" font-family="Liberation Serif" font-style="italic" font-size="31.19" fill="#231f20">δ</text>
<path d="M713.05,1132.08 C708.87,1130.39 706.79,1127.98 706.34,1124.85" fill="none" stroke="#231f20" stroke-width="1.49" stroke-linecap="round"/><path d="M707.53,1127.50 C706.19,1125.09 706.19,1120.75 709.17,1118.34 C711.56,1116.65 714.54,1115.93 718.41,1115.81" fill="none" stroke="#231f20" stroke-width="2.53" stroke-linecap="butt"/><path d="M718.11,1115.81 C722.88,1115.81 728.24,1117.13 733.91,1118.58" fill="none" stroke="#231f20" stroke-width="2.09" stroke-linecap="round"/><path d="M705.89,1109.54 L720.79,1115.93" fill="none" stroke="#231f20" stroke-width="1.43" stroke-linecap="round"/>
<circle cx="697.50" cy="1120.70" r="2.40" fill="#231f20"/>
<text transform="rotate(-90) translate(-1108.45,730.12) scale(1.1698,1)" font-family="Liberation Serif" font-style="italic" font-size="29.11" fill="#231f20" stroke="#fff" stroke-width="0.21">c</text>
<path d="M1199.21,1484.34 C1200.58,1480.52 1202.86,1479.11 1206.05,1478.91 L1220.42,1478.51" fill="none" stroke="#231f20" stroke-width="2.01" stroke-linecap="round"/><path d="M1210.16,1479.11 C1209.02,1485.14 1206.96,1491.17 1206.74,1495.79" fill="none" stroke="#231f20" stroke-width="2.91" stroke-linecap="round"/>
<text transform="translate(1218.76,1501.70) scale(1.3212,1)" font-family="Liberation Serif" font-style="italic" font-size="28.84" fill="#231f20" stroke="#fff" stroke-width="0.35">α</text>
<text transform="translate(1241.93,1501.99) scale(1.1437,1)" font-family="Liberation Serif" font-style="normal" font-size="31.56" fill="#231f20" stroke="#fff" stroke-width="0.20">0</text>
</g>
</svg></body></html>
